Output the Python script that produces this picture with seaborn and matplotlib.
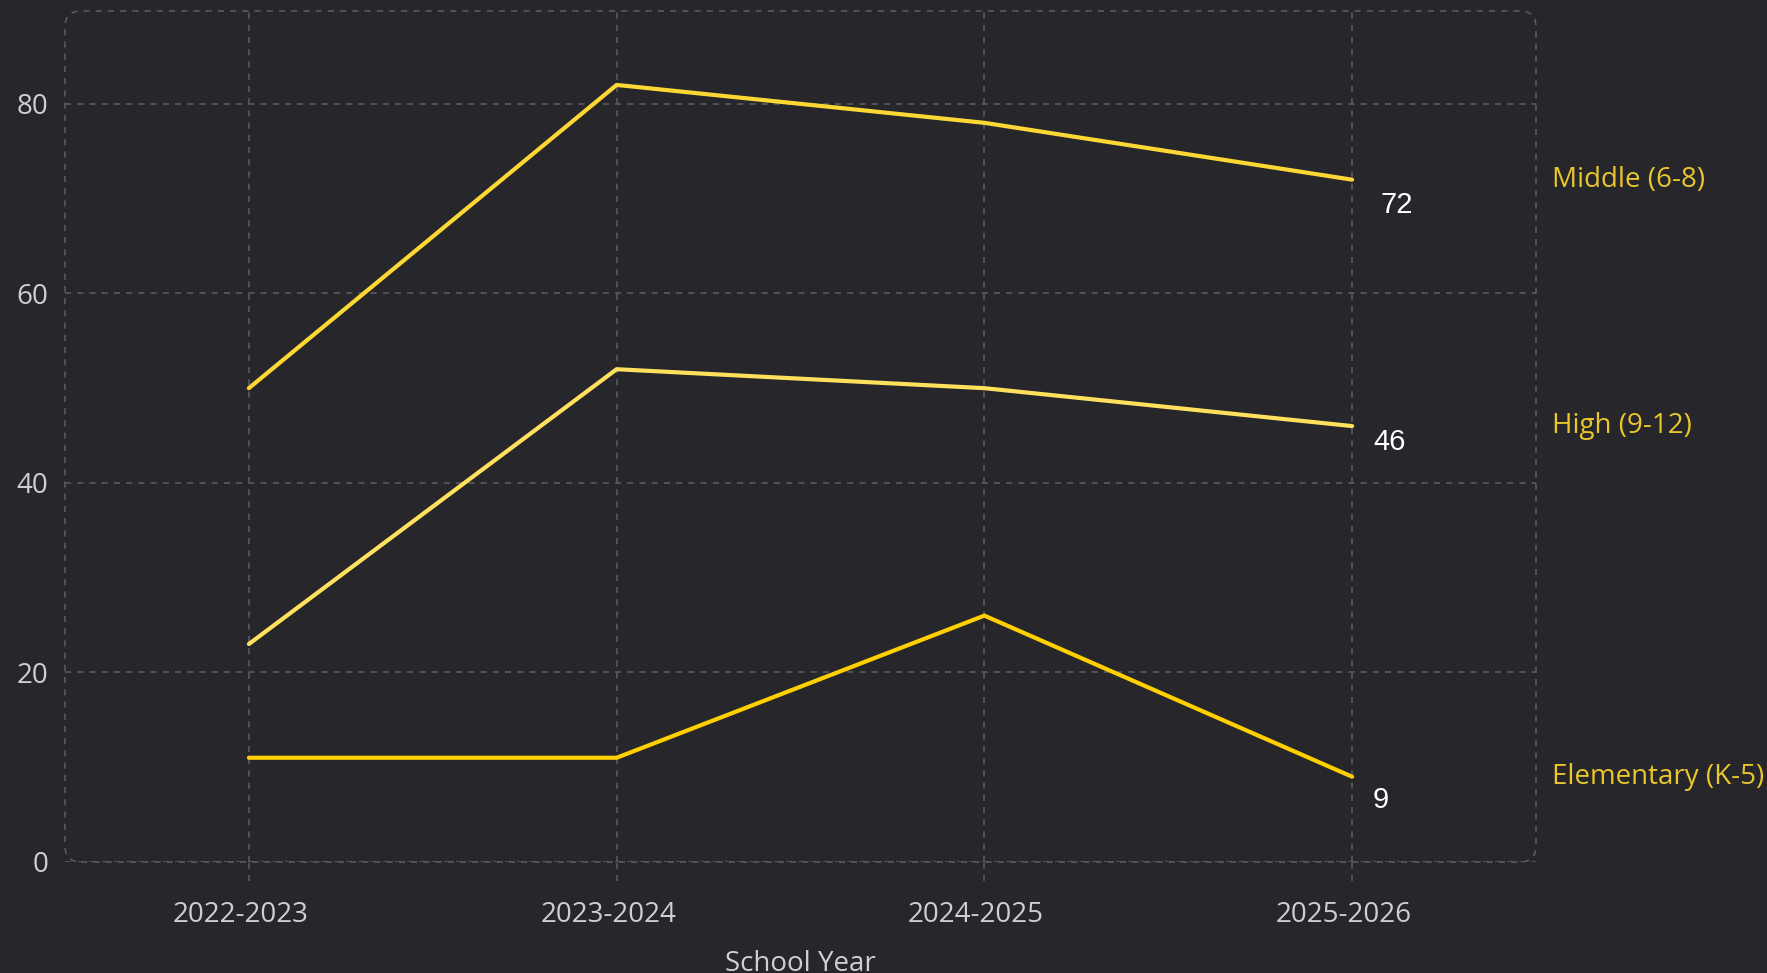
import matplotlib
matplotlib.use("Agg")
import pandas as pd
import matplotlib.pyplot as plt
import matplotlib.transforms as mtransforms
from matplotlib.patches import FancyBboxPatch
import seaborn as sns

# data
years = ["2022-2023", "2023-2024", "2024-2025", "2025-2026"]
middle = [50, 82, 78, 72]
high = [23, 52, 50, 46]
elementary = [11, 11, 26, 9]
series_names = ["Middle (6-8)", "High (9-12)", "Elementary (K-5)"]
line_colors = ["#FDD835", "#FFE15E", "#FFD000"]
label_offsets = [(28, -25), (21, -16), (20, -23)]  # px offsets for end labels

bg = "#26262b"
grid_col = "#5e5e63"
text_col = "#cfcfcf"

sns.set_theme(style="dark")
plt.rcParams["font.family"] = ["Open Sans", "DejaVu Sans"]

df = pd.DataFrame({
    "Year": years * 3,
    "Value": middle + high + elementary,
    "Level": [n for n in series_names for _ in years],
})
df["x"] = df["Year"].map({y: i for i, y in enumerate(years)})

fig = plt.figure(figsize=(17.67, 9.73), dpi=100, facecolor=bg)
ax = fig.add_axes([65 / 1767, 1 - 862 / 973, 1471 / 1767, 851 / 973])
ax.set_facecolor(bg)

sns.lineplot(data=df, x="x", y="Value", hue="Level", palette=line_colors,
             linewidth=3, legend=False, ax=ax, sort=False)

ax.set_xlim(-0.5, 3.5)
ax.set_ylim(0, 89.8)
ax.set_xticks(range(len(years)))
ax.set_xticklabels(years)
ax.set_yticks([0, 20, 40, 60, 80])
ax.tick_params(axis="both", length=0, colors=text_col, labelsize=20)
ax.tick_params(axis="x", pad=28)
ax.tick_params(axis="y", pad=12)
shift = mtransforms.ScaledTranslation(-8.5 / 100, 0, fig.dpi_scale_trans)
for lab in ax.get_xticklabels():
    lab.set_transform(lab.get_transform() + shift)
ax.set_ylabel("")
ax.set_xlabel("School Year", color=text_col, fontsize=20)
ax.xaxis.set_label_coords(0.5, -0.103)

ax.grid(True, linestyle=(0, (4, 4)), color=grid_col, linewidth=1.1)
for s in ax.spines.values():
    s.set_visible(False)

# rounded dashed frame
frame = FancyBboxPatch((0, 0), 1, 1, transform=ax.transAxes,
                       boxstyle="round,pad=0,rounding_size=0.011",
                       mutation_aspect=1471 / 851, fill=False,
                       edgecolor=grid_col, linestyle=(0, (4, 4)),
                       linewidth=1.1, clip_on=False, zorder=0)
ax.add_patch(frame)

# dashed tick extensions below the frame
trans = mtransforms.blended_transform_factory(ax.transData, ax.transAxes)
for i in range(len(years)):
    ax.plot([i, i], [-0.022, 0], transform=trans, color=grid_col,
            linestyle=(0, (4, 4)), linewidth=1.1, clip_on=False)

# end value labels and series labels on the right
right = mtransforms.blended_transform_factory(ax.transAxes, ax.transData)
for vals, name, (dx, dy) in zip([middle, high, elementary], series_names, label_offsets):
    ax.annotate(str(vals[-1]), (len(years) - 1, vals[-1]), xytext=(dx, dy),
                textcoords="offset pixels", color="white", fontsize=21,
                family=["Liberation Sans", "DejaVu Sans"],
                ha="left", va="center")
    ax.text(1.011, vals[-1], name, transform=right, color="#E9C62B",
            fontsize=20, ha="left", va="center", clip_on=False)

fig.savefig("out.png", dpi=100, facecolor=bg)
